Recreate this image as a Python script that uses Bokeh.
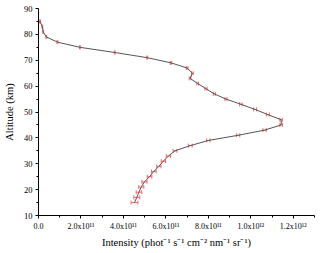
from bokeh.plotting import figure
from bokeh.models import Range1d, FixedTicker, Whisker, ColumnDataSource, TeeHead
from bokeh.embed import file_html
from bokeh.resources import INLINE

# Data (intensity in units of 1e12)
altitude = [15, 17, 19, 21, 23, 25, 27, 29, 31, 33, 35, 37, 39, 41, 43, 45, 47, 49,
            51, 53, 55, 57, 59, 61, 63, 65, 67, 69, 71, 73, 75, 77, 79, 81, 83, 85]
intensity_e12 = [0.452, 0.463, 0.473, 0.484, 0.499, 0.523, 0.543, 0.567, 0.588, 0.612,
                 0.643, 0.715, 0.800, 0.940, 1.065, 1.143, 1.143, 1.080, 1.020, 0.953,
                 0.883, 0.828, 0.789, 0.750, 0.714, 0.725, 0.700, 0.624, 0.512, 0.359,
                 0.195, 0.089, 0.037, 0.022, 0.018, 0.007]
error_e12 = [0.016, 0.014, 0.013, 0.012, 0.012, 0.011, 0.011, 0.010, 0.010, 0.010,
             0.009, 0.009, 0.008, 0.008, 0.008, 0.006, 0.006, 0.007, 0.007, 0.006,
             0.005, 0.005, 0.005, 0.004, 0.004, 0.004, 0.004, 0.003, 0.002, 0.002,
             0.002, 0.002, 0.002, 0.002, 0.002, 0.002]

x_tick_values = [0, 2e11, 4e11, 6e11, 8e11, 1e12, 1.2e12]
x_tick_labels = ["0.0", "2.0x10¹¹", "4.0x10¹¹", "6.0x10¹¹", "8.0x10¹¹", "1.0x10¹²", "1.2x10¹²"]
x_minor_values = [1e11, 3e11, 5e11, 7e11, 9e11, 1.1e12, 1.3e12]
y_tick_values = [10, 20, 30, 40, 50, 60, 70, 80, 90]
y_minor_values = [15, 25, 35, 45, 55, 65, 75, 85]

intensity = [v * 1e12 for v in intensity_e12]
lower = [(v - e) * 1e12 for v, e in zip(intensity_e12, error_e12)]
upper = [(v + e) * 1e12 for v, e in zip(intensity_e12, error_e12)]
src = ColumnDataSource(dict(y=altitude, x=intensity, lo=lower, hi=upper))

FONT = "Liberation Serif"

p = figure(width=316, height=250, output_backend="svg", toolbar_location=None,
           x_range=Range1d(0, 1.3e12), y_range=Range1d(10, 90),
           min_border_left=37, min_border_right=2, min_border_top=8, min_border_bottom=35)
p.outline_line_color = None
p.xgrid.visible = False
p.ygrid.visible = False
p.background_fill_color = "white"

p.line("x", "y", source=src, line_color="#555555", line_width=1)

err_color = "#f26a6a"
w = Whisker(source=src, base="y", lower="lo", upper="hi", dimension="width",
            line_color=err_color, line_width=1,
            upper_head=TeeHead(size=4, line_color=err_color, line_width=1),
            lower_head=TeeHead(size=4, line_color=err_color, line_width=1))
p.add_layout(w)

p.xaxis.ticker = FixedTicker(ticks=x_tick_values, minor_ticks=x_minor_values)
p.xaxis.major_label_overrides = {v: s for v, s in zip(x_tick_values, x_tick_labels)}
p.yaxis.ticker = FixedTicker(ticks=y_tick_values, minor_ticks=y_minor_values)

for ax in (p.xaxis, p.yaxis):
    ax.axis_line_color = "black"
    ax.major_tick_line_color = "black"
    ax.minor_tick_line_color = "black"
    ax.major_tick_out = 3
    ax.major_tick_in = 0
    ax.minor_tick_out = 2
    ax.minor_tick_in = 0
    ax.major_label_text_font = FONT
    ax.major_label_text_font_size = "8px"
    ax.major_label_text_color = "black"
    ax.axis_label_text_font = FONT
    ax.axis_label_text_font_size = "10.5px"
    ax.axis_label_text_font_style = "normal"
    ax.axis_label_text_color = "black"
    ax.major_label_standoff = 3
    ax.axis_label_standoff = 3

p.yaxis.major_label_text_font_size = "8.5px"
p.yaxis.axis_label_standoff = 6
p.xaxis.axis_label = "Intensity (phot⁻¹ s⁻¹ cm⁻² nm⁻¹ sr⁻¹)"
p.yaxis.axis_label = "Altitude (km)"

open("out.html", "w").write(file_html(p, INLINE))
